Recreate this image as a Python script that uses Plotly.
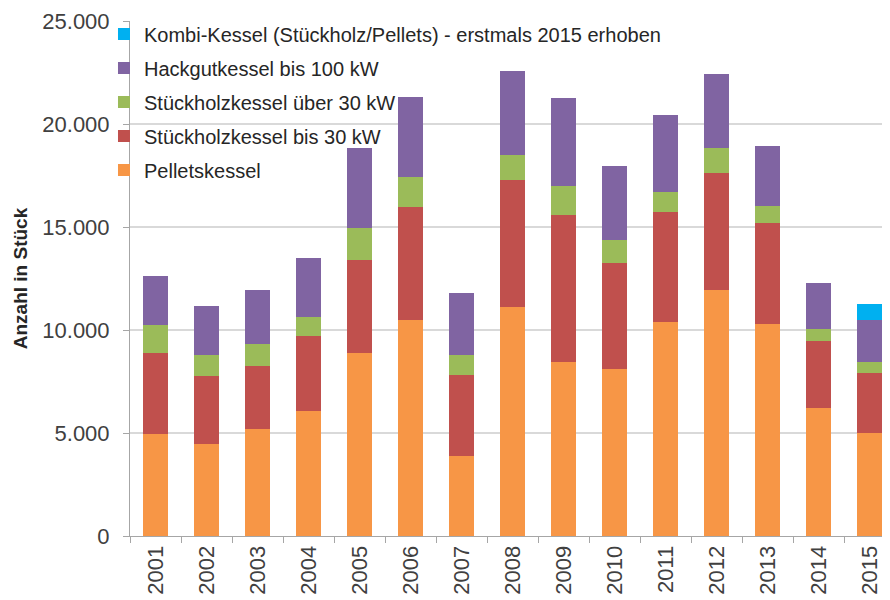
import plotly.graph_objects as go

years = [str(y) for y in range(2001, 2016)]
pellets = [4940, 4480, 5190, 6070, 8870, 10490, 3900, 11100, 8460, 8110, 10370, 11940, 10290, 6200, 5020]
stueck_bis30 = [3960, 3270, 3040, 3640, 4530, 5500, 3900, 6180, 7120, 5130, 5340, 5670, 4890, 3280, 2910]
stueck_ueber30 = [1345, 1020, 1100, 940, 1570, 1430, 970, 1210, 1410, 1130, 1000, 1240, 840, 550, 530]
hackgut = [2380, 2410, 2610, 2835, 3850, 3910, 3040, 4090, 4290, 3610, 3720, 3580, 2910, 2230, 2020]
kombi = [0, 0, 0, 0, 0, 0, 0, 0, 0, 0, 0, 0, 0, 0, 780]

series = [
    ("Pelletskessel", pellets, "#F79646"),
    ("Stückholzkessel bis 30 kW", stueck_bis30, "#C0504D"),
    ("Stückholzkessel über 30 kW", stueck_ueber30, "#9BBB59"),
    ("Hackgutkessel bis 100 kW", hackgut, "#8064A2"),
    ("Kombi-Kessel (Stückholz/Pellets) - erstmals 2015 erhoben", kombi, "#00B0F0"),
]

fig = go.Figure()
n = len(series)
for i, (name, vals, col) in enumerate(series):
    fig.add_trace(go.Bar(x=years, y=vals, name=name, marker_color=col,
                         marker_line_width=0, legendgroup=f"g{i}",
                         legendrank=n - i))

font_family = "Liberation Sans, Arial, sans-serif"
fig.update_layout(
    width=890, height=600,
    barmode="stack", bargap=0.51,
    separators=",.",
    plot_bgcolor="white", paper_bgcolor="white",
    margin=dict(l=122, r=3, t=13, b=72, autoexpand=False),
    font=dict(family=font_family, color="#404040"),
    showlegend=True,
    legend=dict(x=-0.034, xanchor="left", y=0.989, yref="container", yanchor="top",
                traceorder="grouped", tracegroupgap=5, itemwidth=30,
                bgcolor="rgba(0,0,0,0)",
                font=dict(size=20, color="#262626", family=font_family)),
    xaxis=dict(showline=True, linecolor="#A6A6A6", linewidth=1, automargin=False,
               ticks="outside", tickson="boundaries", ticklen=6, tickcolor="#A6A6A6",
               tickangle=-90, tickfont=dict(size=22, color="#404040")),
    yaxis=dict(range=[0, 25000], tickvals=[0, 5000, 10000, 15000, 20000, 25000],
               tickformat=",.0f", showgrid=True, gridcolor="#D9D9D9", gridwidth=1.5,
               showline=True, linecolor="#A6A6A6", ticks="outside", ticklen=6,
               tickcolor="#A6A6A6", zeroline=False, automargin=False,
               ticklabelstandoff=9,
               tickfont=dict(size=22, color="#404040"),
               title=dict(text="<b>Anzahl in Stück</b>", font=dict(size=19, color="#262626"),
                          standoff=9)),
)

fig.write_html("out.html")
